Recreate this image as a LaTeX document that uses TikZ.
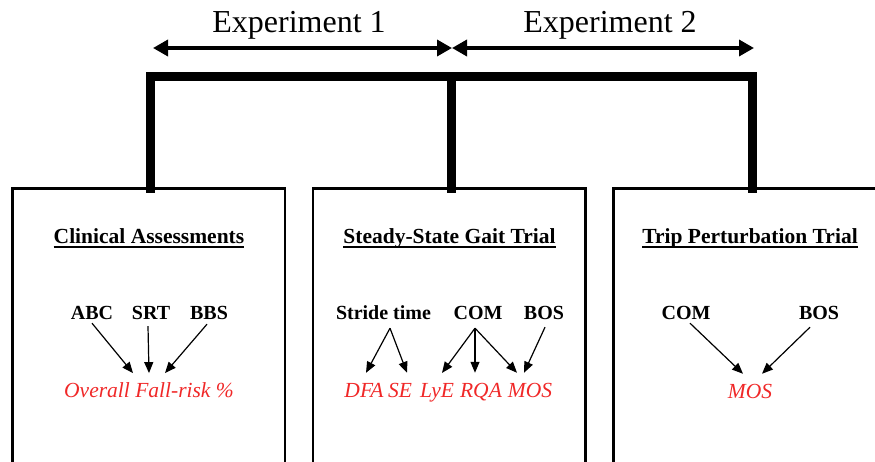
\documentclass[tikz,border=0pt]{standalone}
\usepackage{fontspec}
\setmainfont{Liberation Serif}
\usetikzlibrary{arrows.meta}
\definecolor{riskred}{RGB}{240,40,40}
\begin{document}
\begin{tikzpicture}[x=1pt,y=-1pt,
  every node/.style={inner sep=0pt,outer sep=0pt},
  panel/.style={draw,line width=2.6pt,minimum width=272.5pt,minimum height=290pt,anchor=north west},
  bracket/.style={line width=9pt,line join=miter,line cap=rect},
  exparrow/.style={line width=3.5pt,{Triangle[length=15pt,width=16pt]}-{Triangle[length=15pt,width=16pt]}},
  exptext/.style={anchor=base,font=\fontsize{32}{38}\selectfont},
  paneltitle/.style={anchor=base,font=\fontsize{21.5}{26}\selectfont\bfseries},
  measure/.style={anchor=base,font=\fontsize{20}{24}\selectfont\bfseries},
  outcome/.style={anchor=base,text=riskred,font=\fontsize{21.5}{26}\selectfont\itshape},
  link/.style={line width=1.2pt,-{Triangle[length=11pt,width=9pt]}},
  uline/.style={line width=1.8pt}
]
\clip (0,0) rectangle (875,461);

% three study panels
\node[panel] (box1) at (12.5,188.5) {};
\node[panel] (box2) at (313,188.5) {};
\node[panel] (box3) at (613.5,188.5) {};

% bracket joining the panels
\coordinate (hl) at (150,76);
\coordinate (hm) at (451.5,76);
\coordinate (hr) at (752,76);
\draw[bracket] (hl |- box1.north) -- (hl) -- (hr) -- (hr |- box3.north);
\draw[bracket] (hm) -- (hm |- box2.north);

% experiment spans
\coordinate (e1) at (153,48);
\coordinate (e2) at (452,48);
\coordinate (e3) at (754,48);
\draw[exparrow] (e1) -- (e2);
\draw[exparrow] (e2) -- (e3);
\node[exptext] (exp1) at (299,32) {Experiment 1};
\node[exptext] (exp2) at (610,32) {Experiment 2};

% panel titles
\node[paneltitle] (t1) at (149,243) {Clinical Assessments};
\node[paneltitle] (t2) at (449.5,243) {Steady-State Gait Trial};
\node[paneltitle] (t3) at (750,243) {Trip Perturbation Trial};
\foreach \t in {t1,t2,t3}
  \draw[uline] ([yshift=-4pt]\t.base west) -- ([yshift=-4pt]\t.base east);

% clinical assessments
\node[measure] (abc) at (92,319) {ABC};
\node[measure] (srt) at (151,319) {SRT};
\node[measure] (bbs) at (209,319) {BBS};
\node[outcome] (risk) at (149,397) {Overall Fall-risk \%};
\draw[link] ([yshift=-4pt]abc.south) -- ([xshift=-16pt,yshift=9pt]risk.north);
\draw[link] ([xshift=-3pt,yshift=-7pt]srt.south) -- ([yshift=9pt]risk.north);
\draw[link] ([xshift=-2pt,yshift=-5pt]bbs.south) -- ([xshift=16pt,yshift=9pt]risk.north);

% steady-state gait trial
\node[measure] (stride) at (383.5,319) {Stride time};
\node[measure] (com2) at (478,319) {COM};
\node[measure] (bos2) at (544,319) {BOS};
\node[outcome] (dfa) at (364,397) {DFA};
\node[outcome] (se) at (400,397) {SE};
\node[outcome] (lye) at (437,397) {LyE};
\node[outcome] (rqa) at (481,397) {RQA};
\node[outcome] (mos2) at (530,397) {MOS};
\coordinate (sapex) at ([xshift=6.5pt,yshift=-9pt]stride.south);
\coordinate (capex) at ([xshift=-3pt,yshift=-9pt]com2.south);
\draw[link] (sapex) -- ([xshift=2pt,yshift=10pt]dfa.north);
\draw[link] (sapex) -- ([xshift=7pt,yshift=10pt]se.north);
\draw[link] (capex) -- ([xshift=5pt,yshift=10pt]lye.north);
\draw[link] (capex) -- ([xshift=-6pt,yshift=10pt]rqa.north);
\draw[link] (capex) -- ([xshift=-13pt,yshift=10pt]mos2.north);
\draw[link] ([xshift=1pt,yshift=-8pt]bos2.south) -- ([xshift=-6pt,yshift=10pt]mos2.north);

% trip perturbation trial
\node[measure] (com3) at (686,319) {COM};
\node[measure] (bos3) at (819,319) {BOS};
\node[outcome] (mos3) at (750,398) {MOS};
\draw[link] ([xshift=4pt,yshift=-4pt]com3.south) -- ([xshift=-7pt,yshift=10pt]mos3.north);
\draw[link] ([xshift=-9pt,yshift=-8pt]bos3.south) -- ([xshift=12pt,yshift=10pt]mos3.north);
\end{tikzpicture}
\end{document}
